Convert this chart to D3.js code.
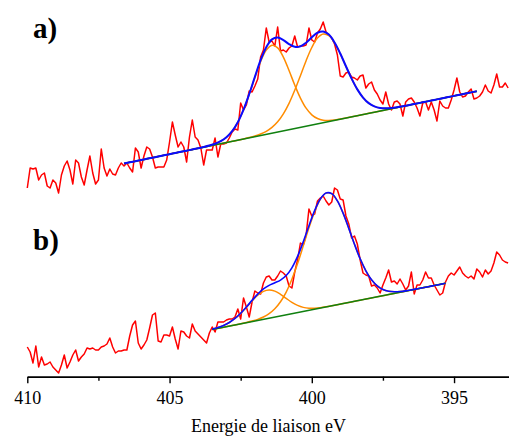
<!DOCTYPE html>
<html><head><meta charset="utf-8">
<script src="https://cdn.jsdelivr.net/npm/d3@7"></script>
<style>html,body{margin:0;padding:0;background:#fff;} svg{display:block;}</style>
</head><body>
<svg id="chart" width="509" height="436"></svg>
<script>
// ---- measured spectra (arbitrary intensity units), 0.1 eV steps from 410 eV ----
const energyStart = 410;
const energyStep = 0.1;

const intensityA = [
 12,32,31,32,20,25,27,14,12,20, 17,7,25,34,39,30,16,40,37,23,
 15,30,44,27,16,20,51,32,24,31, 26,25,32,37,34,37,32,28,52,48,
 32,44,53,51,43,32,33,33,33,40, 58,78,65,53,58,53,38,63,
 80,63,60,52,35,50,50,50,62,43, 56,56,57,62,68,71,70,97,90,95,
 109,108,114,121,143,150,172,158,159,154, 173,149,150,148,152,154,164,153,154,154,
 155,172,160,158,167,171,178,168,165,162, 156,145,124,
 123,127,128,123,122,120,124,125,112,116, 118,110,106,100,96,108,96,90,98,99,
 96,84,98,101,102,98,92,84,97,98, 90,98,90,79,99,94,92,92,100,110,
 122,108,103,104,108,111,101,102,104,108, 115,109,107,115,126,113,113,117,112
];

const intensityB = [
 33,28,17,34,13,23,15,16,18,13, 10,7,15,25,12,18,25,30,19,23,
 26,32,31,32,30,30,33,34,36,42, 33,27,29,29,30,30,44,55,59,37,
 31,35,40,52,65,67,39,38,45,45, 44,53,41,31,49,48,44,42,56,49,
 46,43,40,37,47,53,
 48,58,58,58,60,61,61,63,71,61,
 82,73,63,78,89,87,86,97,103,104, 100,100,104,109,107,104,94,92,108,120,
 137,135,145,171,164,166,179,182,184,179, 175,178,192,190,181,180,164,156,142,144,
 136,120,107,105,104,94,95,92,87,95, 102,110,98,99,96,101,96,90,94,108,
 86,95,95,100,108,102,102,95,90,85, 87,98,104,107,105,109,113,107,104,102,
 104,101,111,108,103,110,106,109,117,128, 125,120,118,117
];

// ---- fitted components, sampled every 0.2 eV ----
const fitStartA = 406.6, fitStepA = 0.2;
const baselineA = [[406.6, 36.5], [394.2, 108.8]];
const peak1A = [
 0,0,0,0,0,0,0,0,0,0,0,0,
 0.02,0.05,0.15,0.43,1.08,2.49,5.25,10.18,18.0,29.3,43.5,59.2,73.8,84.2,88.0,
 84.2,73.8,59.2,43.5,29.3,18.0,10.2,5.3,2.5,1.1,0.4,0.2,0.05,
 0,0,0,0,0,0,0,0,0,0,0,0,0,0,0,0,0,0,0,0,0,0,0
];
const peak2A = [
 0,0,0,0,0,0,0,0,0,0,0,0,0,0,0,0,0,0,0,0,0,
 0.1,0.3,0.7,1.5,3.0,5.8,10.2,17.0,26.3,38.2,51.7,65.5,77.5,85.8,88.7,
 85.8,77.5,65.5,51.7,38.2,26.3,17.0,10.2,5.8,3.0,1.5,0.7,0.3,0.1,
 0,0,0,0,0,0,0,0,0,0,0,0,0
];

const fitStartB = 403.5, fitStepB = 0.2;
const baselineB = [[403.5, 50.5], [395.3, 96.7]];
const peak1B = [
 0.36,0.86,1.85,3.63,6.46,10.47,15.43,20.69,25.25,28.02,28.28,25.97,21.70,16.49,
 11.40,7.17,4.10,2.13,1.01,0.43,0.17,0.06,
 0,0,0,0,0,0,0,0,0,0,0,0,0,0,0,0,0,0,0,0
];
const peak2B = [
 0,0,0,0.01,0.04,0.09,0.23,0.53,1.15,2.37,4.58,8.31,14.2,22.8,34.5,49.0,65.6,82.5,
 97.6,108.7,113.8,112.1,103.8,90.4,74.1,57.1,41.4,28.3,18.1,10.9,6.2,3.3,1.67,
 0.79,0.35,0.15,0.06,0,0,0,0,0
];

// ---- axis texts ----
const majorTicks = [410, 405, 400, 395];
const minorTicks = [407.5, 402.5, 397.5];
const panelLabels = ["a)", "b)"];
const axisTitle = "Energie de liaison eV";

// ---- drawing ----
const svg = d3.select("#chart");
const x = d3.scaleLinear().domain([410, 393]).range([27.3, 510.95]);
const yA = d3.scaleLinear().domain([0, 200]).range([200, 0]);
const yB = d3.scaleLinear().domain([0, 200]).range([380, 180]);

const COLORS = {data: "#ff0000", peak: "#ff8c00", base: "#108010", env: "#0a0aff"};

function drawPanel(intensity, fitStart, fitStep, baseline, peaks, y, envWidth) {
  const g = svg.append("g");
  const spec = intensity.map((v, i) => [energyStart - energyStep * i, v]);
  const n = peaks[0].length;
  const fitE = d3.range(n).map(k => fitStart - fitStep * k);
  const baseScale = d3.scaleLinear()
    .domain(baseline.map(d => d[0])).range(baseline.map(d => d[1]));
  const base = fitE.map(e => baseScale(e));

  const line = d3.line().x(d => x(d[0])).y(d => y(d[1]));
  const smooth = d3.line().x(d => x(d[0])).y(d => y(d[1])).curve(d3.curveCatmullRom.alpha(0.5));

  g.append("path").attr("d", line(spec))
    .attr("fill", "none").attr("stroke", COLORS.data).attr("stroke-width", 1.5)
    .attr("stroke-linejoin", "round");

  peaks.forEach(p => {
    g.append("path").attr("d", smooth(fitE.map((e, k) => [e, base[k] + p[k]])))
      .attr("fill", "none").attr("stroke", COLORS.peak).attr("stroke-width", 1.5);
  });

  g.append("path").attr("d", line(baseline))
    .attr("fill", "none").attr("stroke", COLORS.base).attr("stroke-width", 1.5);

  const env = fitE.map((e, k) => [e, base[k] + d3.sum(peaks, p => p[k])]);
  g.append("path").attr("d", smooth(env))
    .attr("fill", "none").attr("stroke", COLORS.env).attr("stroke-width", envWidth);
}

drawPanel(intensityA, fitStartA, fitStepA, baselineA, [peak1A, peak2A], yA, 2);
drawPanel(intensityB, fitStartB, fitStepB, baselineB, [peak1B, peak2B], yB, 1.6);

// panel labels
svg.append("text").attr("x", 33).attr("y", 37.5).text(panelLabels[0])
  .attr("font-family", "Liberation Serif, Times New Roman, serif")
  .attr("font-weight", "bold").attr("font-size", 29).attr("fill", "#000");
svg.append("text").attr("x", 33).attr("y", 250).text(panelLabels[1])
  .attr("font-family", "Liberation Serif, Times New Roman, serif")
  .attr("font-weight", "bold").attr("font-size", 29).attr("fill", "#000");

// x axis
const axisY = 376.7;
const minorAxis = d3.axisBottom(x).tickValues(minorTicks).tickSize(4).tickSizeOuter(0).tickFormat("");
const majorAxis = d3.axisBottom(x).tickValues(majorTicks).tickSize(6.5).tickSizeOuter(0)
  .tickPadding(8).tickFormat(d3.format("d"));

const gMinor = svg.append("g").attr("transform", `translate(0,${axisY})`).call(minorAxis);
const gMajor = svg.append("g").attr("transform", `translate(0,${axisY})`).call(majorAxis);
[gMinor, gMajor].forEach(g => {
  g.selectAll("path, line").attr("stroke", "#000").attr("stroke-width", 1.4);
  g.selectAll("text").attr("font-family", "Liberation Serif, Times New Roman, serif")
    .attr("font-size", 18).attr("fill", "#000");
});

svg.append("text").attr("x", 268.5).attr("y", 431.5).attr("text-anchor", "middle")
  .text(axisTitle)
  .attr("font-family", "Liberation Serif, Times New Roman, serif")
  .attr("font-size", 18).attr("fill", "#000");
</script>
</body></html>
